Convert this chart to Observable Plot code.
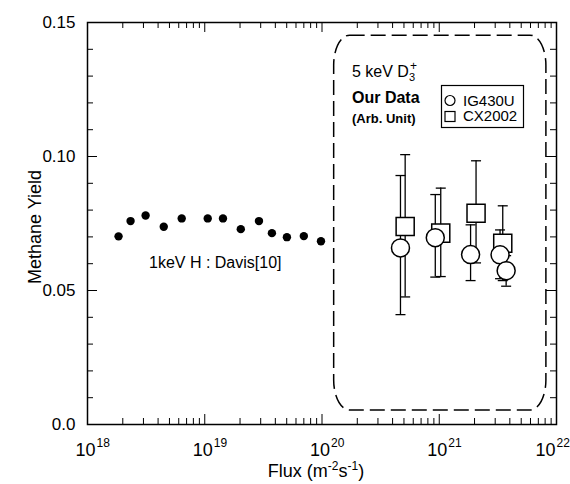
<!DOCTYPE html>
<html><head><meta charset="utf-8">
<script src="https://cdn.jsdelivr.net/npm/d3@7"></script>
<script src="https://cdn.jsdelivr.net/npm/@observablehq/plot@0.6"></script>
<style>
body{margin:0;background:#fff;}
svg{font-family:"Liberation Sans", Arial, sans-serif;}
</style>
</head><body><div id="chart"></div>
<script>
// ---- data ----
const davisFlux = [1.84e18, 2.33e18, 3.13e18, 4.47e18, 6.36e18, 1.06e19, 1.43e19, 2.03e19, 2.9e19, 3.74e19, 5.02e19, 7.0e19, 9.8e19];
const davisYield = [0.0702, 0.0759, 0.0780, 0.0738, 0.0769, 0.0769, 0.0769, 0.0729, 0.0759, 0.0714, 0.0699, 0.0703, 0.0684];

const ig430uFlux  = [4.67e20, 9.25e20, 1.85e21, 3.30e21, 3.72e21];
const ig430uYield = [0.0659, 0.0697, 0.0634, 0.0633, 0.0574];
const ig430uLow   = [0.0410, 0.0550, 0.0537, 0.0544, 0.0516];
const ig430uHigh  = [0.0929, 0.0858, 0.0745, 0.0726, 0.0630];

const cx2002Flux  = [5.12e20, 1.03e21, 2.06e21, 3.48e21];
const cx2002Yield = [0.0739, 0.0714, 0.0788, 0.0676];
const cx2002Low   = [0.0476, 0.0552, 0.0603, 0.0537];
const cx2002High  = [0.1007, 0.0882, 0.0984, 0.0816];

const xTicks = [1e18, 1e19, 1e20, 1e21, 1e22];
const xTickExponents = ["18", "19", "20", "21", "22"];
const yTicks = [0, 0.05, 0.10, 0.15];
const yTickLabels = ["0.0", "0.05", "0.10", "0.15"];
const legendLabels = ["IG430U", "CX2002"];
const davisLabel = "1keV H : Davis[10]";

// annotation region (data coordinates)
const regionBox = [{x1: 1.27e20, x2: 8.2e21, y1: 0.0052, y2: 0.1451}];

// ---- derived tables ----
const davis = davisFlux.map((x, i) => ({x, y: davisYield[i]}));
const ig = ig430uFlux.map((x, i) => ({x, y: ig430uYield[i], lo: ig430uLow[i], hi: ig430uHigh[i]}));
const cx = cx2002Flux.map((x, i) => ({x, y: cx2002Yield[i], lo: cx2002Low[i], hi: cx2002High[i]}));
const xMinor = [];
for (let e = 18; e < 22; e++) for (let k = 2; k <= 9; k++) xMinor.push(k * Math.pow(10, e));
const yMinor = d3.range(1, 15).map(i => i / 100).filter(v => Math.round(v * 100) % 5 !== 0);

const W = 570, H = 484, mL = 87, mR = 14, mT = 22, mB = 60;
const iw = W - mL - mR, ih = H - mT - mB;
const majLen = 10, minLen = 6;
const capSymbol = {draw(ctx) { ctx.moveTo(-5, 0); ctx.lineTo(5, 0); }};
const K = "black";
const lastShift = (i) => i === xTicks.length - 1 ? -8 : 0;

const errMarks = (data) => [
  Plot.ruleX(data, {x: "x", y1: "lo", y2: "hi", stroke: K, strokeWidth: 1.3}),
  Plot.dot(data, {x: "x", y: "lo", symbol: capSymbol, stroke: K, strokeWidth: 1.3}),
  Plot.dot(data, {x: "x", y: "hi", symbol: capSymbol, stroke: K, strokeWidth: 1.3})
];

const svg = Plot.plot({
  width: W, height: H,
  marginLeft: mL, marginRight: mR, marginTop: mT, marginBottom: mB,
  x: {type: "log", domain: [1e18, 1e22], axis: null},
  y: {domain: [0, 0.15], axis: null},
  style: {fontFamily: "Liberation Sans, Arial, sans-serif", color: "black", background: "white"},
  marks: [
    // dashed region
    Plot.rect(regionBox, {x1: "x1", x2: "x2", y1: "y1", y2: "y2", fill: "none", stroke: K, strokeWidth: 1.5, strokeDasharray: "15,6", rx: 16, ry: 30}),
    // ticks (inward, mirrored)
    Plot.tickX(xTicks, {x: d => d, insetTop: ih - majLen, stroke: K}),
    Plot.tickX(xMinor, {x: d => d, insetTop: ih - minLen, stroke: K}),
    Plot.tickX(xTicks, {x: d => d, insetBottom: ih - majLen, stroke: K}),
    Plot.tickX(xMinor, {x: d => d, insetBottom: ih - minLen, stroke: K}),
    Plot.tickY(yTicks, {y: d => d, insetRight: iw - majLen, stroke: K}),
    Plot.tickY(yMinor, {y: d => d, insetRight: iw - minLen, stroke: K}),
    Plot.tickY(yTicks, {y: d => d, insetLeft: iw - majLen, stroke: K}),
    Plot.tickY(yMinor, {y: d => d, insetLeft: iw - minLen, stroke: K}),
    // tick labels
    Plot.text(yTicks, {y: d => d, text: (d, i) => yTickLabels[i], frameAnchor: "left", textAnchor: "end", dx: -12, fontSize: 17, fill: K}),
    Plot.text(xTicks.slice(0, 4), {x: d => d, text: () => "10", frameAnchor: "bottom", lineAnchor: "bottom", dx: -2, dy: 31, fontSize: 18, fill: K}),
    Plot.text(xTicks.slice(0, 4), {x: d => d, text: (d, i) => xTickExponents[i], frameAnchor: "bottom", lineAnchor: "bottom", textAnchor: "start", dx: 9, dy: 22, fontSize: 12, fill: K}),
    Plot.text(xTicks.slice(4), {x: d => d, text: () => "10", frameAnchor: "bottom", lineAnchor: "bottom", dx: -11, dy: 31, fontSize: 18, fill: K}),
    Plot.text(xTicks.slice(4), {x: d => d, text: () => xTickExponents[4], frameAnchor: "bottom", lineAnchor: "bottom", textAnchor: "start", dx: 0, dy: 22, fontSize: 12, fill: K}),
    // Davis data
    Plot.dot(davis, {x: "x", y: "y", r: 4.2, fill: K, stroke: "none"}),
    // error bars
    ...errMarks(ig),
    ...errMarks(cx),
    Plot.dot(cx, {x: "x", y: "y", symbol: "square", r: 10.2, fill: "white", stroke: K, strokeWidth: 1.5}),
    Plot.dot(ig, {x: "x", y: "y", r: 9, fill: "white", stroke: K, strokeWidth: 1.5}),
    Plot.frame({stroke: K, strokeWidth: 1.5})
  ]
});

const s = d3.select(svg);
const font = "Liberation Sans, Arial, sans-serif";
const txt = (x, y, size) => s.append("text").attr("x", x).attr("y", y).attr("text-anchor", "start")
  .attr("font-size", size).attr("font-family", font).attr("fill", K);

// y title
s.append("text")
  .attr("transform", `translate(41,${mT + ih / 2 + 4}) rotate(-90)`)
  .attr("text-anchor", "middle").attr("font-size", 18).attr("font-family", font).attr("fill", K)
  .text("Methane Yield");

// x title
const xt = s.append("text").attr("x", 316).attr("y", 477).attr("text-anchor", "middle")
  .attr("font-size", 18).attr("font-family", font).attr("fill", K);
xt.append("tspan").text("Flux (m");
xt.append("tspan").attr("font-size", 12).attr("dy", -7).text("-2");
xt.append("tspan").attr("dy", 7).text("s");
xt.append("tspan").attr("font-size", 12).attr("dy", -7).text("-1");
xt.append("tspan").attr("dy", 7).text(")");

// Davis label
txt(149, 268, 16).text(davisLabel);

// 5 keV D3+
const t5 = txt(352, 77, 16);
t5.append("tspan").text("5 keV D");
t5.append("tspan").attr("font-size", 11).attr("dy", 4).text("3");
t5.append("tspan").attr("font-size", 12).attr("dx", -5).attr("dy", -11).text("+");

txt(352, 103, 16).attr("font-weight", "bold").text("Our Data");
txt(352, 122.5, 13).attr("font-weight", "bold").text("(Arb. Unit)");

// legend
const lg = s.append("g");
lg.append("rect").attr("x", 441.5).attr("y", 85.5).attr("width", 82).attr("height", 42).attr("fill", "white").attr("stroke", K).attr("stroke-width", 1.2);
lg.append("circle").attr("cx", 450).attr("cy", 100.5).attr("r", 5).attr("fill", "none").attr("stroke", K).attr("stroke-width", 1.2);
lg.append("rect").attr("x", 445).attr("y", 111.5).attr("width", 10).attr("height", 10).attr("fill", "none").attr("stroke", K).attr("stroke-width", 1.2);
legendLabels.forEach((l, i) => {
  txt(463, 105.5 + i * 15.5, 15).text(l);
});

document.getElementById("chart").appendChild(svg);
</script>
</body></html>
